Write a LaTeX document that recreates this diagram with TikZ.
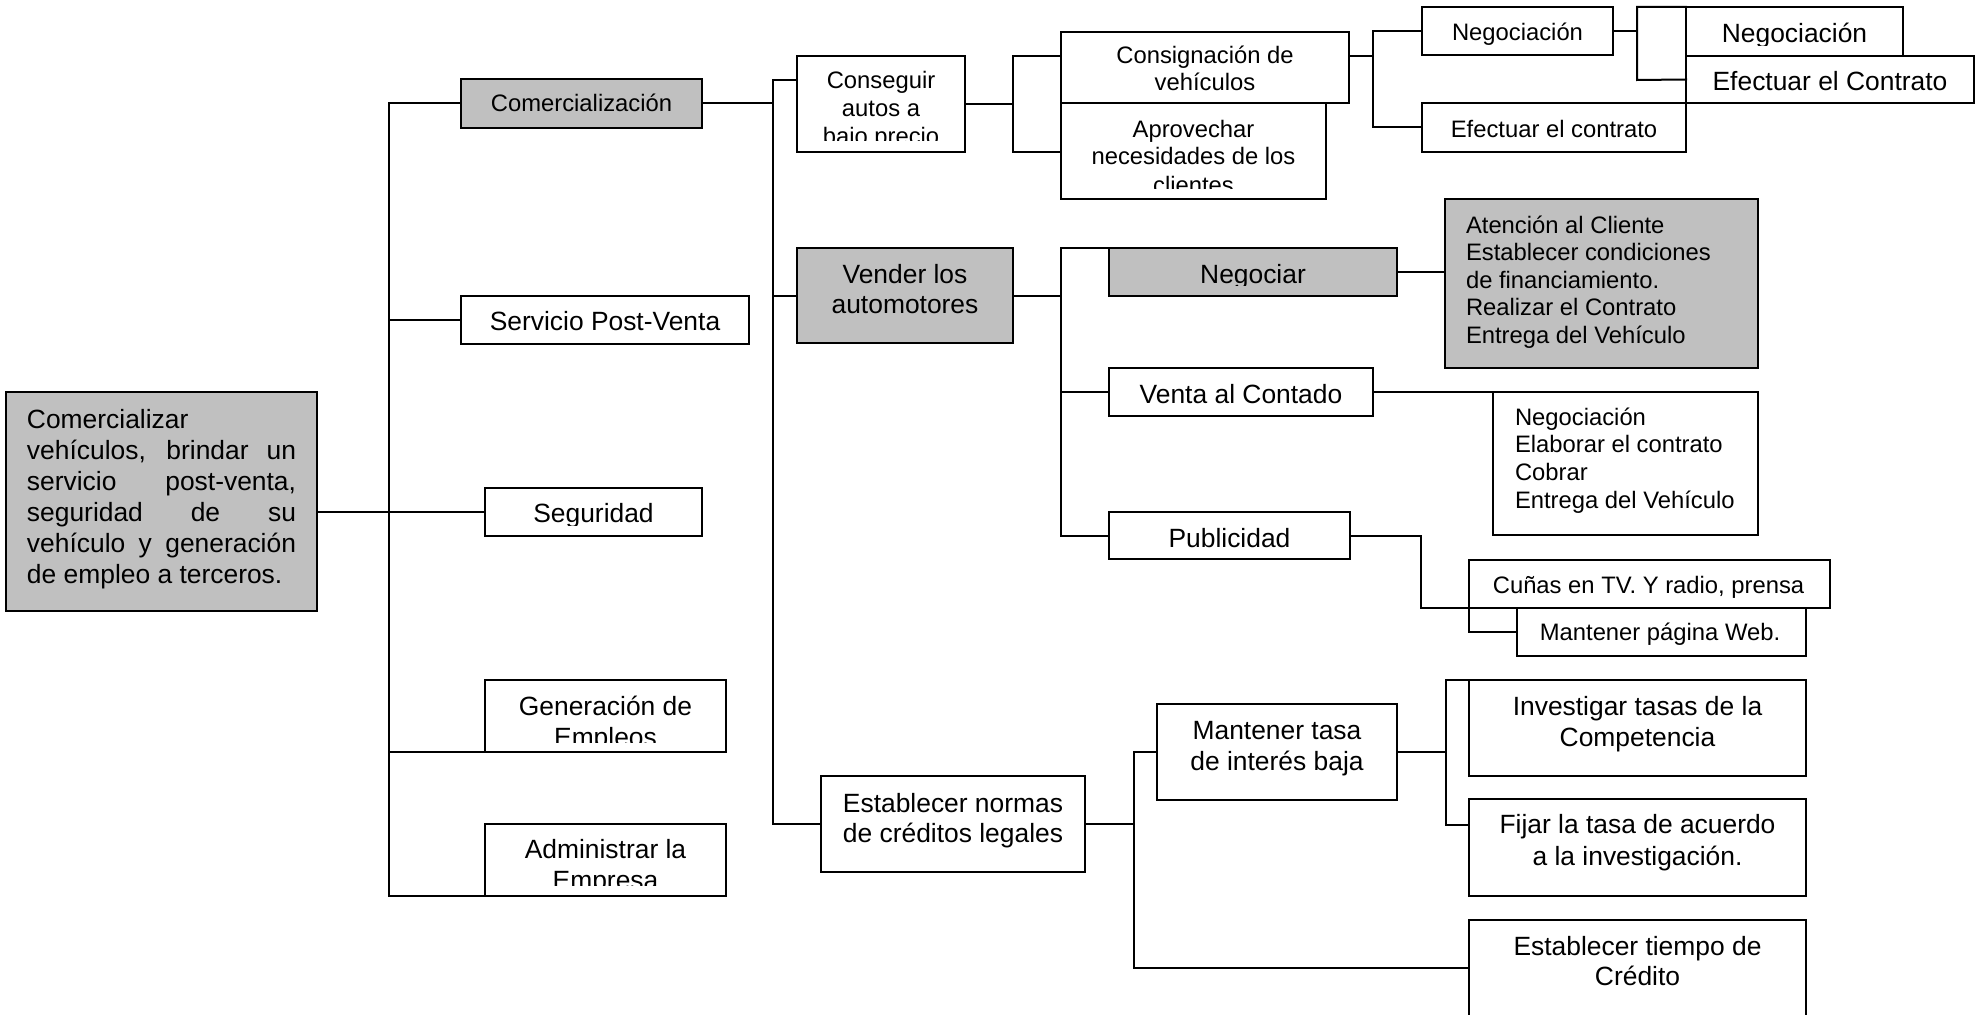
\documentclass[tikz,border=0pt]{standalone}
\usepackage{fontspec}
\setmainfont{Liberation Sans}
\usetikzlibrary{fit}
\definecolor{boxgray}{HTML}{C0C0C0}
\newcommand{\bigtxt}{\fontsize{26.4pt}{31pt}\selectfont}
\newcommand{\smalltxt}{\fontsize{23.8pt}{27.5pt}\selectfont}
% centred multi-line label: #1 = line spacing, #2 = lines
\newcommand{\mlines}[2]{\parbox[t]{400pt}{\centering\setlength{\baselineskip}{#1pt}#2}}
% left-aligned multi-line label
\newcommand{\llines}[2]{\parbox[t]{300pt}{\raggedright\setlength{\baselineskip}{#1pt}#2}}
\begin{document}
\begin{tikzpicture}[x=1pt,y=-1pt,
  box/.style={draw, line width=2pt, rectangle, inner sep=0pt, outer sep=0pt, fill=white},
  graybox/.style={box, fill=boxgray},
  lbl/.style={inner sep=0pt, outer sep=0pt, anchor=base},
  big/.style={lbl, font=\bigtxt},
  small/.style={lbl, font=\smalltxt},
  link/.style={line width=2pt, line cap=rect}]
\useasboundingbox (0,0) rectangle (1977,1014);
\clip (0,0) rectangle (1977,1014);

% ---------- boxes ----------
\node[graybox, fit={(6,392) (317,611)}] (root) {};
\node[graybox, fit={(461,79) (702,128)}] (com) {};
\node[box, fit={(461,296) (749,344)}] (spv) {};
\node[box, fit={(485,488) (702,536)}] (seg) {};
\node[box, fit={(485,680) (726,752)}] (gen) {};
\node[box, fit={(485,824) (726,896)}] (adm) {};
\node[box, fit={(797,56) (965,152)}] (con) {};
\node[graybox, fit={(797,248) (1013,343)}] (ven) {};
\node[box, fit={(821,776) (1085,872)}] (ncl) {};
\node[box, fit={(1061,103) (1326,199)}] (apr) {};
\node[box, fit={(1061,32) (1349,103)}] (cons) {};
\node[box, fit={(1422,7) (1613,55)}] (neg1) {};
\node[box, fit={(1422,103) (1686,152)}] (efc1) {};
\node[box, fit={(1686,56) (1974,103)}] (efc2) {};
\node[box, fit={(1686,7) (1903,56)}] (neg2) {};
\node[graybox, fit={(1109,248) (1397,296)}] (ngr) {};
\node[graybox, fit={(1445,199) (1758,368)}] (ate) {};
\node[box, fit={(1109,368) (1373,416)}] (vac) {};
\node[box, fit={(1493,392) (1758,535)}] (ncc) {};
\node[box, fit={(1109,512) (1350,559)}] (pub) {};
\node[box, fit={(1517,608) (1806,656)}] (web) {};
\node[box, fit={(1469,560) (1830,608)}] (cun) {};
\node[box, fit={(1157,704) (1397,800)}] (mtb) {};
\node[box, fit={(1469,680) (1806,776)}] (inv) {};
\node[box, fit={(1469,799) (1806,896)}] (fij) {};
\node[box, fit={(1469,920) (1806,1040)}] (tie) {};

% ---------- labels ----------
\node[lbl, anchor=base west, font=\bigtxt] (root-t) at (27,428) {\parbox[t]{269pt}{\setlength{\baselineskip}{31pt}%
  \makebox[269pt][l]{Comercializar}\\
  \makebox[269pt][s]{vehículos, brindar un}\\
  \makebox[269pt][s]{servicio post-venta,}\\
  \makebox[269pt][s]{seguridad de su}\\
  \makebox[269pt][s]{vehículo y generación}\\
  \makebox[269pt][l]{de empleo a terceros.}}};
\node[small] (com-t) at (581.5,112) {Comercialización};
\node[big] (spv-t) at (605,330) {Servicio Post-Venta};
\begin{scope}
  \clip (485,488) rectangle (702,525);
  \node[big] (seg-t) at (593.5,522) {Seguridad};
\end{scope}
\begin{scope}
  \clip (485,680) rectangle (726,742);
  \node[big] (gen-t) at (605.5,715) {\mlines{31}{Generación de\\Empleos}};
\end{scope}
\begin{scope}
  \clip (485,824) rectangle (726,885);
  \node[big] (adm-t) at (605.5,858) {\mlines{31}{Administrar la\\Empresa}};
\end{scope}
\begin{scope}
  \clip (797,56) rectangle (965,140);
  \node[small] (con-t) at (881,89) {\mlines{27.5}{Conseguir\\autos a\\bajo precio}};
\end{scope}
\node[big] (ven-t) at (905,283) {\mlines{30}{Vender los\\automotores}};
\node[big] (ncl-t) at (953,812) {\mlines{30}{Establecer normas\\de créditos legales}};
\node[small] (cons-t) at (1205,64) {\mlines{27}{Consignación de\\vehículos}};
\begin{scope}
  \clip (1061,103) rectangle (1326,188);
  \node[small] (apr-t) at (1193.5,137) {\mlines{28}{Aprovechar\\necesidades de los\\clientes}};
\end{scope}
\node[small] (neg1-t) at (1517.5,41) {Negociación};
\node[small] (efc1-t) at (1554,137) {Efectuar el contrato};
\begin{scope}
  \clip (1686,7) rectangle (1903,46);
  \node[big] (neg2-t) at (1794.5,43) {Negociación};
\end{scope}
\node[big] (efc2-t) at (1830,91) {Efectuar el Contrato};
\begin{scope}
  \clip (1109,248) rectangle (1397,285);
  \node[big] (ngr-t) at (1253,283) {Negociar};
\end{scope}
\node[small, anchor=base west] (ate-t) at (1466,233) {\llines{27.5}{Atención al Cliente\\Establecer condiciones\\de financiamiento.\\Realizar el Contrato\\Entrega del Vehículo}};
\node[big] (vac-t) at (1241,403) {Venta al Contado};
\node[small, anchor=base west] (ncc-t) at (1515,425) {\llines{27.7}{Negociación\\Elaborar el contrato\\Cobrar\\Entrega del Vehículo}};
\node[big] (pub-t) at (1229.5,547) {Publicidad};
\node[small] (cun-t) at (1648.5,593) {Cuñas en TV. Y radio, prensa};
\node[small] (web-t) at (1660,640) {Mantener página Web.};
\node[big] (mtb-t) at (1277,739) {\mlines{31}{Mantener tasa\\de interés baja}};
\node[big] (inv-t) at (1637.5,715) {\mlines{31}{Investigar tasas de la\\Competencia}};
\node[big] (fij-t) at (1637.5,833) {\mlines{32}{Fijar la tasa de acuerdo\\a la investigación.}};
\node[big] (tie-t) at (1637.5,955) {\mlines{30}{Establecer tiempo de\\Crédito}};

% ---------- junction points ----------
\coordinate (tr)   at (389,896);
\coordinate (l3)   at (773,80);
\coordinate (b1t)  at (1013,56);
\coordinate (b1b)  at (1013,152);
\coordinate (b2m)  at (1373,56);
\coordinate (b2b)  at (1373,127);
\coordinate (b3)   at (1637,80);
\coordinate (b4)   at (1061,536);
\coordinate (b5)   at (1421,608);
\coordinate (b6b)  at (1134,968);
\coordinate (b7b)  at (1446,825);

% ---------- connectors ----------
% main trunk
\draw[link] (com.west) -| (tr) -- (adm.south west);
\draw[link] (spv.west) -- (spv.west -| tr);
\draw[link] (gen.south west) -- (gen.south west -| tr);
\draw[link] (seg.west) -- (seg.west -| root.east);
% second-level trunk
\draw[link] (com.east) -- (com.east -| l3);
\draw[link] (con.west |- l3) -- (l3) -- (l3 |- ncl.west) -- (ncl.west);
\draw[link] (ven.west) -- (ven.west -| l3);
% obtaining vehicles
\draw[link] (con.east) -- (con.east -| b1t);
\draw[link] (b1t -| cons.west) -- (b1t) -- (b1b) -- (b1b -| apr.west);
\draw[link] (b2m -| cons.east) -- (b2m);
\draw[link] (neg1.west) -| (b2b) -- (b2b -| efc1.west);
\draw[link] (neg1.east) -- (neg1.east -| b3);
\draw[link] (neg2.north west) -| (b3) -- (efc2.west);
% selling
\draw[link] (ven.east) -- (ven.east -| b4);
\draw[link] (ngr.north west) -| (b4) -- (b4 -| pub.west);
\draw[link] (vac.west) -- (vac.west -| b4);
\draw[link] (ngr.east) -- (ngr.east -| ate.west);
\draw[link] (vac.east) -- (ncc.north west);
\draw[link] (pub.east) -| (b5) -- (cun.south west) -- (cun.south west |- web.west) -- (web.west);
% credit rules
\draw[link] (ncl.east) -- (ncl.east -| b6b);
\draw[link] (mtb.west) -| (b6b) -- (b6b -| tie.west);
\draw[link] (mtb.east) -- (mtb.east -| b7b);
\draw[link] (inv.north west) -| (b7b) -- (b7b -| fij.west);
\end{tikzpicture}
\end{document}
